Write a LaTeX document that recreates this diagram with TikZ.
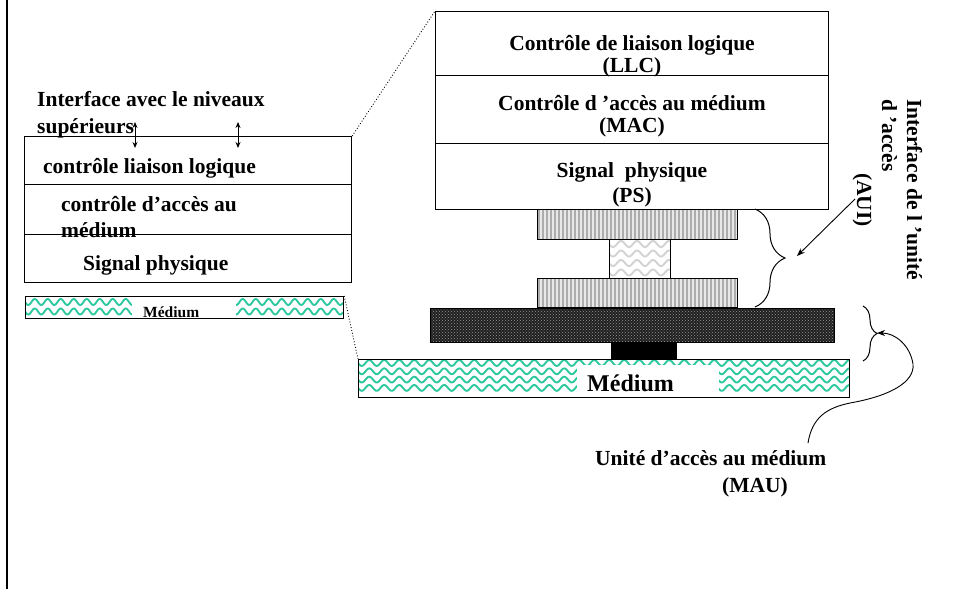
\documentclass[tikz,border=0pt]{standalone}
\usepackage{fontspec}
\setmainfont{Liberation Serif}
\usetikzlibrary{arrows.meta,decorations.pathreplacing,patterns}
\definecolor{medteal}{RGB}{45,200,158}

% rows of sine waves: x0, x1, first row y, rows, row step, wavelength, amplitude, colour
\newcommand{\waverows}[8]{%
  \foreach \r in {1,...,#4}{%
    \draw[#8, line width=1.9pt, line join=round]
      plot[domain=0:{#2-#1}, samples=300, smooth]
      ({#1+\x}, {#3 + (\r-1)*#5 + #7*sin(\x*(360/#6))});
  }}

\tikzset{
  layer/.style={draw, line width=1.2pt, inner sep=0pt, anchor=north west},
  lbl/.style={inner sep=0pt, font=\bfseries\fontsize{21.5}{24}\selectfont},
  vlbl/.style={lbl, rotate=-90, anchor=base west},
  dbl/.style={{Stealth[length=6pt,width=5pt]}-{Stealth[length=6pt,width=5pt]}, line width=0.9pt},
  thinarrow/.style={-{Stealth[length=8pt,width=6pt]}, line width=0.9pt},
  hatchfill/.style={fill=gray!18},
}

\begin{document}
\begin{tikzpicture}[x=1pt,y=-1pt]
\useasboundingbox (0,0) rectangle (953,589);

% page margin rule
\draw[line width=2pt] (7,0) -- (7,589);

% ---------- left stack ----------
\node[layer, minimum width=327pt, minimum height=48pt] (llcL) at (24,136) {};
\node[layer, minimum width=327pt, minimum height=50pt] (macL) at (24,184) {};
\node[layer, minimum width=327pt, minimum height=48pt] (psL)  at (24,234) {};

\node[lbl, anchor=base west] (ifc1) at (37,106) {Interface avec le niveaux};
\node[lbl, anchor=base west] (ifc2) at (37,133) {supérieurs};
\node[lbl, anchor=base west] (tllcL) at (43,173) {contrôle liaison logique};
\node[lbl, anchor=base west] (tmacL1) at (61,211) {contrôle d’accès au};
\node[lbl, anchor=base west] (tmacL2) at (61,237) {médium};
\node[lbl, anchor=base west] (tpsL) at (83,270) {Signal physique};

\coordinate (a1t) at (135,122); \coordinate (a1b) at (135,148);
\coordinate (a2t) at (238,122); \coordinate (a2b) at (238,148);
\draw[dbl] (a1t) -- (a1b);
\draw[dbl] (a2t) -- (a2b);

% small medium bar
\begin{scope}
  \clip (25,296) rectangle (343,318);
  \waverows{25}{343}{302}{2}{9.5}{13}{3}{medteal}
  \fill[white] (132,296) rectangle (236,318);
\end{scope}
\node[layer, minimum width=318pt, minimum height=22pt] (medL) at (25,296) {};
\node[inner sep=0pt, anchor=base west, font=\bfseries\fontsize{15.5}{18}\selectfont] (tmedL) at (143,317) {Médium};

% ---------- right stack ----------
\node[layer, minimum width=393pt, minimum height=64pt] (llcR) at (435,11) {};
\node[layer, minimum width=393pt, minimum height=68pt] (macR) at (435,75) {};
\node[layer, minimum width=393pt, minimum height=66pt] (psR)  at (435,143) {};

\node[lbl, anchor=base] (tllcR1) at (632,50) {Contrôle de liaison logique};
\node[lbl, anchor=base] (tllcR2) at (632,72) {(LLC)};
\node[lbl, anchor=base] (tmacR1) at (632,110) {Contrôle d ’accès au médium};
\node[lbl, anchor=base] (tmacR2) at (632,132) {(MAC)};
\node[lbl, anchor=base] (tpsR1) at (632,177) {Signal~ physique};
\node[lbl, anchor=base] (tpsR2) at (632,202) {(PS)};

% AUI cable: two connectors and the cable between them
\fill[hatchfill] (537,209) rectangle (737,239);
\fill[hatchfill] (537,278) rectangle (737,307);
\foreach \k in {0,...,49}{
  \draw[gray!65, line width=1.8pt] (539+4*\k,209) -- (539+4*\k,239);
  \draw[gray!65, line width=1.8pt] (539+4*\k,278) -- (539+4*\k,307);
}
\begin{scope}
  \clip (609,239) rectangle (670,278);
  \waverows{609}{670}{244}{4}{9.5}{16}{3}{gray!35}
\end{scope}
\node[layer, minimum width=200pt, minimum height=30pt] (auiTop) at (537,209) {};
\node[layer, minimum width=61pt, minimum height=39pt] (auiMid) at (609,239) {};
\node[layer, minimum width=200pt, minimum height=29pt] (auiBot) at (537,278) {};

% MAU block and tap
\fill[black!88] (430,308) rectangle (834,342);
\fill[pattern=crosshatch dots, pattern color=gray!80] (430,308) rectangle (834,342);
\node[layer, minimum width=404pt, minimum height=34pt] (mau) at (430,308) {};
\node[layer, fill=black, minimum width=65pt, minimum height=17pt] (tap) at (611,342) {};

% large medium bar
\begin{scope}
  \clip (358,359) rectangle (849,397);
  \waverows{358}{849}{363}{4}{8.3}{15}{3}{medteal}
  \fill[white] (577,365) rectangle (719,397);
\end{scope}
\node[layer, minimum width=491pt, minimum height=38pt] (medR) at (358,359) {};
\node[inner sep=0pt, anchor=base west, font=\bfseries\fontsize{24}{28}\selectfont] (tmedR) at (587,391) {Médium};

% zoom guides between the two drawings
\draw[dotted, line width=0.9pt] (llcL.north east) -- (llcR.north west);
\draw[dotted, line width=0.9pt] (medL.north east) -- (medR.north west);

% braces
\coordinate (br1a) at (755,209); \coordinate (br1b) at (755,307);
\draw[line width=1pt, decorate, decoration={brace, amplitude=30pt}] (br1a) -- (br1b);
\coordinate (br2a) at (863,306); \coordinate (br2b) at (863,361);
\draw[line width=1pt, decorate, decoration={brace, amplitude=14pt}] (br2a) -- (br2b);

% AUI label and arrow
\node[vlbl] (taui1) at (907,99) {Interface de l ’unité};
\node[vlbl] (taui2) at (882,99) {d ’accès};
\node[vlbl] (taui3) at (857,173) {(AUI)};
\coordinate (auiFrom) at (855,199);
\coordinate (auiTo) at (797,256);
\draw[thinarrow] (auiFrom) -- (auiTo);

% MAU label and curved arrow
\node[lbl, anchor=base west] (tmau1) at (595,465) {Unité d’accès au médium};
\node[lbl, anchor=base west] (tmau2) at (722,492) {(MAU)};
\coordinate (mauFrom) at (808,443);
\coordinate (mauTo) at (877,333);
\draw[thinarrow] (mauFrom) .. controls (812,418) and (826,408) .. (850,403)
  .. controls (890,396) and (915,382) .. (913,364)
  .. controls (910,345) and (895,333) .. (mauTo);
\end{tikzpicture}
\end{document}
